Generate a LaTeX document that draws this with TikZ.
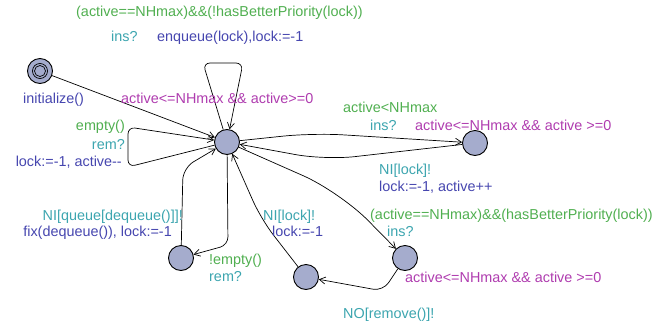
\documentclass[tikz,border=0pt]{standalone}
\usepackage{fontspec}
\setmainfont{Liberation Sans}
\usetikzlibrary{arrows.meta}
\definecolor{cgreen}{RGB}{80,175,80}
\definecolor{cteal}{RGB}{60,165,175}
\definecolor{cblue}{RGB}{70,70,175}
\definecolor{cmag}{RGB}{175,60,175}
\definecolor{locfill}{RGB}{165,172,205}
\begin{document}
\begin{tikzpicture}[x=1pt,y=-1pt,
  loc/.style={circle,draw=black,line width=0.9pt,fill=locfill,minimum size=25pt,inner sep=0pt},
  edge/.style={draw=black,line width=0.7pt,-{Straight Barb[length=6pt,width=7pt]}},
  lbl/.style={inner sep=0pt,font=\fontsize{14.4}{17}\selectfont,text height=10.3pt,text depth=3pt},
  lw/.style={lbl,anchor=west},
  le/.style={lbl,anchor=east}]
\useasboundingbox (0,0) rectangle (656,327);
% locations
\node[loc] (init) at (40,71) {};
\draw[line width=0.7pt] (init.center) circle (7.5pt);
\draw[line width=0.7pt] (init.center) circle (5.5pt);
\node[loc] (main) at (227,142) {};
\node[loc] (right) at (475,143) {};
\node[loc] (bl) at (181,258) {};
\node[loc] (bm) at (306,277) {};
\node[loc] (br) at (405,258) {};
% nails
\coordinate (t1) at (203,63);
\coordinate (t2) at (243,63);
\coordinate (l1) at (128,167);
\coordinate (l2) at (128,127);
\coordinate (r1) at (313,133);
\coordinate (r2) at (325,160);
\coordinate (d1) at (340,192);
\coordinate (d2) at (383,291);
\coordinate (d3) at (261,219);
\coordinate (b1) at (228,245);
\coordinate (b2) at (183,168);
% edges
\draw[edge] (init) -- (main);
\draw[edge,rounded corners=7pt] (main) -- (t1) -- (t2) -- (main);
\draw[edge,rounded corners=7pt] (main) -- (l1) -- (l2) -- (main);
\draw[edge,rounded corners=30pt] (main) -- (r1) -- (right);
\draw[edge,rounded corners=30pt] (right) -- (r2) -- (main);
\draw[edge,rounded corners=40pt] (main) -- (d1) -- (br);
\draw[edge,rounded corners=10pt] (br) -- (d2) -- (bm);
\draw[edge,rounded corners=20pt] (bm) -- (d3) -- (main);
\draw[edge,rounded corners=8pt] (main) -- (b1) -- (bl);
\draw[edge,rounded corners=12pt] (bl) -- (b2) -- (main);
% labels
\node[lw,text=cgreen] (a1) at (76,13) {(active==NHmax)\&\&(!hasBetterPriority(lock))};
\node[lw,text=cteal] (a2) at (111,38) {ins?};
\node[lw,text=cblue] (a3) at (157,38) {enqueue(lock),lock:=-1};
\node[lw,text=cblue] (a4) at (23,100) {initialize()};
\node[lw,text=cmag] (a5) at (121,100) {active<=NHmax \&\& active>=0};
\node[le,text=cgreen] (a6) at (125,127) {empty()};
\node[le,text=cteal] (a7) at (125,146) {rem?};
\node[le,text=cblue] (a8) at (122,163) {lock:=-1, active-{}-};
\node[lw,text=cgreen] (a9) at (343,109) {active<NHmax};
\node[lw,text=cteal] (a10) at (370,127) {ins?};
\node[lw,text=cmag] (a11) at (415,127) {active<=NHmax \&\& active >=0};
\node[lw,text=cteal] (a12) at (379,171) {NI[lock]!};
\node[lw,text=cblue] (a13) at (379,188) {lock:=-1, active++};
\node[lw,text=cgreen] (a14) at (370,216) {(active==NHmax)\&\&(hasBetterPriority(lock))};
\node[lw,text=cteal] (a15) at (387,233) {ins?};
\node[lw,text=cmag] (a16) at (405,279) {active<=NHmax \&\& active >=0};
\node[lw,text=cteal] (a17) at (343,315) {NO[remove()]!};
\node[lw,text=cteal] (a18) at (263,217) {NI[lock]!};
\node[lw,text=cblue] (a19) at (272,233) {lock:=-1};
\node[le,text=cteal] (a20) at (183,217) {NI[queue[dequeue()]]!};
\node[le,text=cblue] (a21) at (172,233) {fix(dequeue()), lock:=-1};
\node[lw,text=cgreen] (a22) at (209,261) {!empty()};
\node[lw,text=cteal] (a23) at (209,278) {rem?};
\end{tikzpicture}
\end{document}
